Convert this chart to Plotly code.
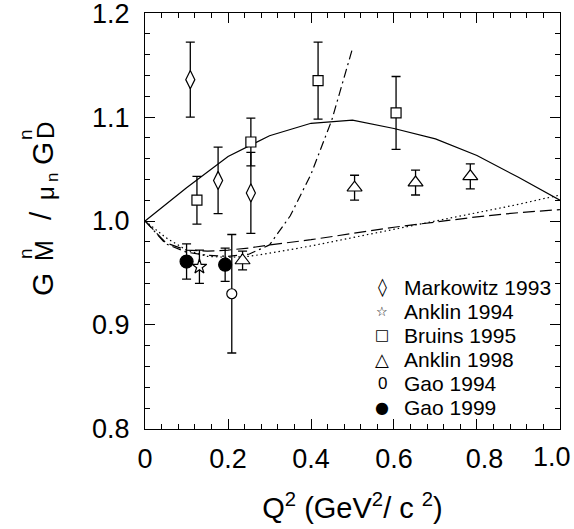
import plotly.graph_objects as go

# ---------------- data ----------------
markowitz_x = [0.109, 0.176, 0.255]
markowitz_y = [1.136, 1.039, 1.027]
markowitz_e = [0.036, 0.032, 0.039]

anklin94_x = [0.131]
anklin94_y = [0.956]
anklin94_e = [0.016]

bruins_x = [0.125, 0.255, 0.417, 0.605]
bruins_y = [1.020, 1.076, 1.135, 1.104]
bruins_e = [0.023, 0.023, 0.037, 0.035]

anklin98_x = [0.235, 0.505, 0.652, 0.784]
anklin98_y = [0.962, 1.032, 1.037, 1.043]
anklin98_e = [0.009, 0.012, 0.012, 0.012]

gao94_x = [0.209]
gao94_y = [0.930]
gao94_e = [0.057]

gao99_x = [0.100, 0.193]
gao99_y = [0.961, 0.958]
gao99_e = [0.017, 0.016]

# model curves
solid_x = [0.0, 0.1, 0.2, 0.3, 0.4, 0.5, 0.6, 0.7, 0.8, 0.9, 1.0]
solid_y = [1.000, 1.032, 1.062, 1.082, 1.094, 1.097, 1.089, 1.079, 1.063, 1.042, 1.020]

dashed_x = [0.0, 0.05, 0.1, 0.15, 0.2, 0.25, 0.3, 0.4, 0.5, 0.6, 0.7, 0.8, 0.9, 1.0]
dashed_y = [1.000, 0.979, 0.972, 0.971, 0.972, 0.974, 0.977, 0.982, 0.988, 0.994, 0.999, 1.004, 1.008, 1.011]

dotted_x = [0.0, 0.05, 0.1, 0.15, 0.2, 0.25, 0.3, 0.4, 0.5, 0.6, 0.7, 0.8, 0.9, 1.0]
dotted_y = [1.000, 0.984, 0.972, 0.966, 0.965, 0.966, 0.969, 0.976, 0.984, 0.992, 1.000, 1.008, 1.016, 1.025]

dashdot_x = [0.0, 0.05, 0.1, 0.15, 0.2, 0.25, 0.3, 0.35, 0.4, 0.45, 0.5]
dashdot_y = [1.000, 0.978, 0.970, 0.967, 0.966, 0.968, 0.977, 1.005, 1.045, 1.097, 1.166]

x_tickvals = [0, 0.2, 0.4, 0.6, 0.8, 1.0]
x_ticktext = ["0", "0.2", "0.4", "0.6", "\u00a0\u00a00.8", ""]
x_last_label = "1.0"
y_tickvals = [0.8, 0.9, 1.0, 1.1, 1.2]
y_ticktext = ["0.8", "0.9", "1.0", "1.1", "1.2"]

legend_names = ["Markowitz 1993", "Anklin 1994", "Bruins 1995",
                "Anklin 1998", "Gao 1994", "Gao 1999"]
legend_glyphs = ["◊", "☆", "□", "△", "0", "●"]

FONT = "Liberation Sans, Arial, Helvetica, sans-serif"
SYMFONT = "DejaVu Sans, Liberation Sans, sans-serif"
W, H = 574, 529
L, R, T, B = 145, 14, 13, 100
PW, PH = W - L - R, H - T - B

fig = go.Figure()

def curve(x, y, dash):
    fig.add_trace(go.Scatter(x=x, y=y, mode="lines", showlegend=False,
                             line=dict(color="black", width=1.2, dash=dash),
                             hoverinfo="skip"))

curve(solid_x, solid_y, "solid")
curve(dashed_x, dashed_y, "12px,5px")
curve(dotted_x, dotted_y, "1.5px,3px")
curve(dashdot_x, dashdot_y, "9px,4px,2px,4px")

def data(name, x, y, e, symbol, size, fill="white"):
    fig.add_trace(go.Scatter(
        x=x, y=y, mode="markers", name=name, showlegend=False,
        error_y=dict(type="data", array=e, visible=True, color="black",
                     thickness=1.3, width=4.5),
        marker=dict(symbol=symbol, size=size, color=fill,
                    line=dict(color="black", width=1.2)),
    ))

data(legend_names[0], markowitz_x, markowitz_y, markowitz_e, "diamond-tall", 13)
data(legend_names[1], anklin94_x, anklin94_y, anklin94_e, "star", 11)
data(legend_names[2], bruins_x, bruins_y, bruins_e, "square", 10)
data(legend_names[3], anklin98_x, anklin98_y, anklin98_e, "triangle-up", 13)
data(legend_names[4], gao94_x, gao94_y, gao94_e, "circle", 10)
data(legend_names[5], gao99_x, gao99_y, gao99_e, "circle", 13, fill="black")

def px2paper(px, py):
    return (px - L) / PW, (H - B - py) / PH

annotations = []

# y-axis title built from pieces (stacked super/subscripts), rotated
ytitle_parts = [
    ("G", 42, 285, 30),
    ("n", 25, 254, 19),
    ("M", 44, 251, 25),
    ("/", 40, 216, 30),
    ("μ", 45, 193, 24),
    ("n", 52, 178, 17),
    ("G", 42, 154, 30),
    ("n", 25, 135, 19),
    ("D", 45, 131, 24),
]
for txt, px, py, fs in ytitle_parts:
    ax, ay = px2paper(px, py)
    annotations.append(dict(text=txt, x=ax, y=ay, xref="paper", yref="paper",
                            showarrow=False, textangle=-90,
                            xanchor="center", yanchor="middle",
                            font=dict(family=FONT, size=fs, color="black")))

# last x tick label, kept inside the page like in the reference
lx, ly = px2paper(573, 457)
annotations.append(dict(text=x_last_label, x=lx, y=ly, xref="paper", yref="paper",
                        showarrow=False, xanchor="right", yanchor="middle",
                        font=dict(family=FONT, size=27, color="black")))

# legend (symbol glyph + label), rows 24 px apart
glyph_sizes = [18, 13, 15, 18, 17, 16]
glyph_fonts = [SYMFONT, SYMFONT, SYMFONT, SYMFONT, FONT, SYMFONT]
row0, rowgap = 287, 24
for i, (name, g) in enumerate(zip(legend_names, legend_glyphs)):
    py = row0 + i * rowgap
    gx, gy = px2paper(382, py)
    tx, ty = px2paper(402, py)
    annotations.append(dict(text=g, x=gx, y=gy, xref="paper", yref="paper",
                            showarrow=False, xanchor="center", yanchor="middle",
                            font=dict(family=glyph_fonts[i], size=glyph_sizes[i],
                                      color="black")))
    annotations.append(dict(text=name, x=tx, y=ty, xref="paper", yref="paper",
                            showarrow=False, xanchor="left", yanchor="middle",
                            font=dict(family=FONT, size=21, color="black")))

axis_common = dict(
    showgrid=False, zeroline=False, showline=True, linecolor="black",
    linewidth=1.3, mirror="allticks", ticks="inside", ticklen=10,
    tickwidth=1.2, tickcolor="black", ticklabeloverflow="allow",
    automargin=False,
    tickfont=dict(family=FONT, size=27, color="black"),
)

fig.update_layout(
    width=W, height=H,
    margin=dict(l=L, r=R, t=T, b=B, pad=0, autoexpand=False),
    paper_bgcolor="white", plot_bgcolor="white",
    font=dict(family=FONT, color="black"),
    showlegend=False,
    xaxis=dict(range=[-0.0002, 1.0002], tickvals=x_tickvals, ticktext=x_ticktext,
               minor=dict(dtick=0.04, tick0=0, ticks="inside", ticklen=5,
                          tickwidth=1, tickcolor="black"),
               ticklabelstandoff=5,
               title=dict(text="Q<sup>2</sup> (GeV<sup>2</sup>/ c <sup>2</sup>)",
                          font=dict(family=FONT, size=29, color="black"),
                          standoff=25),
               **axis_common),
    yaxis=dict(range=[0.7999, 1.2001], tickvals=y_tickvals, ticktext=y_ticktext,
               minor=dict(dtick=0.02, tick0=0.8, ticks="inside", ticklen=5,
                          tickwidth=1, tickcolor="black"),
               ticklabelstandoff=9,
               **axis_common),
    annotations=annotations,
)

fig.write_html("out.html")
